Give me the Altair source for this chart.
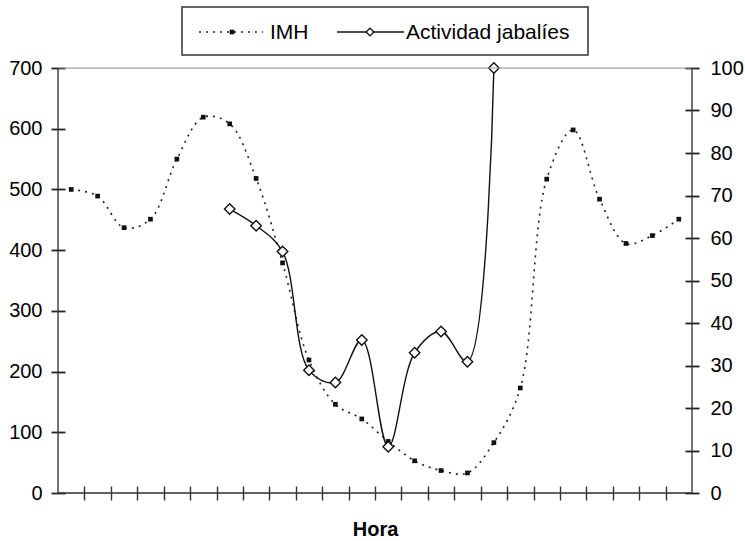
import altair as alt
import pandas as pd

# Hour categories (24), points at category centres
hours = list(range(24))
imh = [500, 489, 437, 451, 550, 619, 608, 518, 379, 219, 146, 122, 85, 53,
       37, 33, 83, 173, 517, 598, 484, 411, 424, 451]
act_hours = [6, 7, 8, 9, 10, 11, 12, 13, 14, 15, 16]
act = [66.8, 62.9, 56.8, 28.9, 26.0, 36.0, 10.9, 33.0, 38.0, 30.9, 100]

left_ticks = list(range(0, 701, 100))
right_ticks = list(range(0, 101, 10))
x_edges = list(range(1, 24))

W, H = 634, 425
FONT = "Liberation Sans"
AX = "#333"

imh_df = pd.DataFrame({"x": [h + 0.5 for h in hours], "imh": imh})
act_df = pd.DataFrame({"x": [h + 0.5 for h in act_hours], "act": act})

# Axes shifted inward by half the tick length so the ticks cross the axis line
xaxis = alt.Axis(labels=False, ticks=True, tickSize=14, tickWidth=1.4, tickColor=AX,
                 values=x_edges, offset=-7, domain=False, grid=False, title="Hora",
                 titleFont=FONT, titleFontSize=20, titleFontWeight="bold",
                 titlePadding=19, titleColor="black")
xenc = alt.X("x:Q", scale=alt.Scale(domain=[0, 24], nice=False, zero=False), axis=xaxis)

laxis = alt.Axis(orient="left", ticks=True, tickSize=14, tickWidth=1.8, tickColor="#222",
                 offset=-7, domain=False, grid=False, values=left_ticks, title=None,
                 labelFont=FONT, labelFontSize=20, labelColor="black", labelPadding=9)
raxis = alt.Axis(orient="right", ticks=True, tickSize=14, tickWidth=1.8, tickColor="#222",
                 offset=-7, domain=False, grid=False, values=right_ticks, title=None,
                 labelFont=FONT, labelFontSize=20, labelColor="black", labelPadding=11)
yl = alt.Y("imh:Q", scale=alt.Scale(domain=[0, 700], nice=False), axis=laxis)
yr = alt.Y("act:Q", scale=alt.Scale(domain=[0, 100], nice=False), axis=raxis)

CURVE = "catmull-rom"

frame_df = pd.DataFrame({"k": [0]})
left_line = alt.Chart(frame_df).mark_rule(color=AX, strokeWidth=1.3).encode(
    x=alt.value(0), y=alt.value(0), y2=alt.value(H))
right_line = alt.Chart(frame_df).mark_rule(color=AX, strokeWidth=1.3).encode(
    x=alt.value(W), y=alt.value(0), y2=alt.value(H))
bottom_line = alt.Chart(frame_df).mark_rule(color=AX, strokeWidth=1.3).encode(
    x=alt.value(0), x2=alt.value(W), y=alt.value(H))
top_line = alt.Chart(frame_df).mark_rule(color="#999", strokeWidth=1.2).encode(
    x=alt.value(0), x2=alt.value(W), y=alt.value(0))

imh_line = alt.Chart(imh_df).mark_line(
    interpolate=CURVE, color="#222", strokeWidth=1.6, strokeDash=[2, 5]
).encode(x=xenc, y=yl)
imh_pts = alt.Chart(imh_df).mark_point(
    shape="square", filled=True, color="#111", size=22, opacity=1
).encode(x=xenc, y=yl)
left = alt.layer(imh_line, imh_pts)

act_line = alt.Chart(act_df).mark_line(
    interpolate=CURVE, color="#111", strokeWidth=1.4
).encode(x=xenc, y=yr)
act_pts = alt.Chart(act_df).mark_point(
    shape="diamond", filled=True, fill="white", stroke="#111", strokeWidth=1.4, size=110, opacity=1
).encode(x=xenc, y=yr)
right = alt.layer(act_line, act_pts)

# Legend (drawn above the plot)
leg_df = pd.DataFrame({"label": ["IMH", "Actividad jabalíes"]})
box = alt.Chart(leg_df.head(1)).mark_rect(fill="white", stroke="#333", strokeWidth=1.5).encode(
    x=alt.value(124), x2=alt.value(530), y=alt.value(-61), y2=alt.value(-13))
l1 = alt.Chart(leg_df.head(1)).mark_rule(color="#222", strokeWidth=1.6, strokeDash=[2, 5]).encode(
    x=alt.value(141), x2=alt.value(205), y=alt.value(-36))
p1 = alt.Chart(leg_df.head(1)).mark_point(shape="square", filled=True, color="#111", size=22, opacity=1).encode(
    x=alt.value(174), y=alt.value(-36))
t1 = alt.Chart(leg_df.head(1)).mark_text(align="left", baseline="middle", font=FONT, fontSize=21, color="black").encode(
    x=alt.value(212), y=alt.value(-35), text="label:N")
l2 = alt.Chart(leg_df.tail(1)).mark_rule(color="#111", strokeWidth=1.4).encode(
    x=alt.value(279), x2=alt.value(346), y=alt.value(-36))
p2 = alt.Chart(leg_df.tail(1)).mark_point(shape="diamond", filled=True, fill="white", stroke="#111",
                                           strokeWidth=1.4, size=60, opacity=1).encode(
    x=alt.value(312), y=alt.value(-36))
t2 = alt.Chart(leg_df.tail(1)).mark_text(align="left", baseline="middle", font=FONT, fontSize=21, color="black").encode(
    x=alt.value(348), y=alt.value(-35), text="label:N")

legend = alt.layer(box, l1, p1, t1, l2, p2, t2)
frame = alt.layer(top_line, left_line, right_line, bottom_line)

chart = alt.layer(left, right, frame, legend).resolve_scale(y="independent").properties(
    width=W, height=H,
    padding={"left": 58, "top": 68, "right": 53, "bottom": 48},
    autosize="none",
).configure_view(stroke=None).configure(background="white")

chart.save("out.html", embed_options={"renderer": "svg", "actions": False})
